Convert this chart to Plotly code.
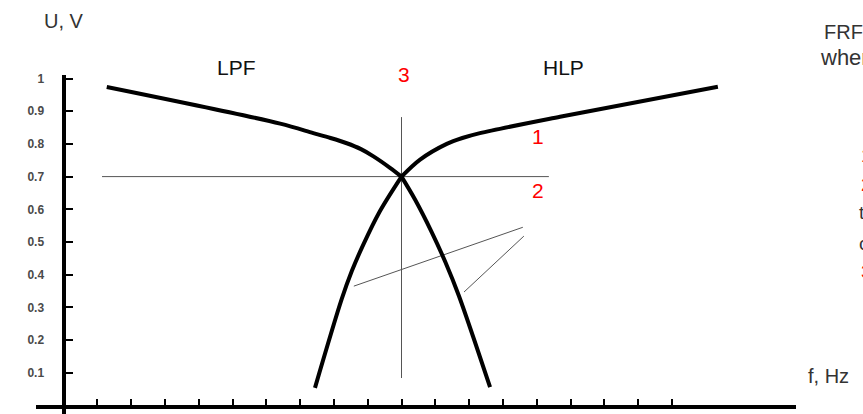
import plotly.graph_objects as go

# ---- data ----
# low-pass filter response (falls), crossing point at index 8
lpf_x = [1.28, 6.41, 7.39, 7.90, 8.38, 8.80, 9.17, 9.66, 10.0, 10.40, 10.90, 11.30, 11.70, 12.62]
lpf_y = [0.974, 0.862, 0.833, 0.818, 0.802, 0.784, 0.762, 0.727, 0.700, 0.630, 0.529, 0.438, 0.335, 0.056]
lpf_cross = 8

# high-pass filter response (rises), crossing point at index 5
hpf_x = [7.44, 8.23, 8.53, 8.87, 9.36, 10.0, 10.55, 11.34, 11.80, 12.32, 14.69, 19.36]
hpf_y = [0.054, 0.325, 0.411, 0.492, 0.594, 0.700, 0.752, 0.800, 0.818, 0.833, 0.883, 0.975]
hpf_cross = 5

level_x = [1.14, 14.36]
level_y = [0.7, 0.7]
cut_x = [10.0, 10.0]
cut_y = [0.084, 0.882]
pointer1_x = [8.59, 13.59]
pointer1_y = [0.365, 0.545]
pointer2_x = [11.85, 13.62]
pointer2_y = [0.347, 0.518]

x_ticks = list(range(1, 19))
y_ticks = [0.1, 0.2, 0.3, 0.4, 0.5, 0.6, 0.7, 0.8, 0.9, 1.0]
y_ticktext = ["0.1", "0.2", "0.3", "0.4", "0.5", "0.6", "0.7", "0.8", "0.9", "1"]

W, H = 863, 414
FONT = "Liberation Sans, Arial, sans-serif"

fig = go.Figure()

thin = dict(color="#555555", width=1)
for xs, ys in [(level_x, level_y), (cut_x, cut_y), (pointer1_x, pointer1_y), (pointer2_x, pointer2_y)]:
    fig.add_trace(go.Scatter(x=xs, y=ys, mode="lines", line=thin, hoverinfo="skip", showlegend=False))

thick = dict(color="black", width=4, shape="spline", smoothing=0.9)
for xs, ys, k in [(lpf_x, lpf_y, lpf_cross), (hpf_x, hpf_y, hpf_cross)]:
    fig.add_trace(go.Scatter(x=xs[:k + 1], y=ys[:k + 1], mode="lines", line=thick, showlegend=False))
    fig.add_trace(go.Scatter(x=xs[k:], y=ys[k:], mode="lines", line=thick, showlegend=False))


def px_x(p):
    return p / W


def px_y(p):
    return 1 - p / H


annots = [
    ("U, V", 42, 21, "#333333", 20, "left"),
    ("f, Hz", 806, 376, "#333333", 20, "left"),
    ("LPF", 236, 67, "#111111", 21, "center"),
    ("HLP", 563, 67, "#111111", 21, "center"),
    ("3", 404, 74, "#ff0000", 21, "center"),
    ("1", 538, 136, "#ff0000", 21, "center"),
    ("2", 538, 190, "#ff0000", 21, "center"),
    ("FRF of filters", 822, 32, "#333333", 20, "left"),
    ("where the", 818, 58, "#333333", 22, "left"),
    ("1 - LPF", 859, 155, "#ff0000", 19, "left"),
    ("2 - level", 859, 184, "#ff0000", 19, "left"),
    ("the", 857, 213, "#333333", 19, "left"),
    ("cut-off", 857, 243, "#333333", 19, "left"),
    ("3 - f", 859, 271, "#ff0000", 19, "left"),
]
for txt, x, y, col, size, anchor in annots:
    fig.add_annotation(text=txt, x=px_x(x), y=px_y(y), xref="paper", yref="paper",
                       xanchor=anchor, yanchor="middle", showarrow=False,
                       font=dict(family=FONT, size=size, color=col))

fig.update_layout(
    width=W, height=H, autosize=False,
    margin=dict(l=0, r=0, t=0, b=0, pad=0),
    paper_bgcolor="white", plot_bgcolor="white",
    template="none",
    xaxis=dict(
        domain=[36 / W, 796 / W],
        range=[-27.5 / 33.8, 732.5 / 33.8],
        anchor="free", position=(H - 407) / H,
        showline=True, linewidth=4, linecolor="black",
        ticks="inside", ticklen=6, tickwidth=2, tickcolor="black",
        tickvals=x_ticks, showticklabels=False,
        showgrid=False, zeroline=False, automargin=False,
    ),
    yaxis=dict(
        domain=[0, (H - 75) / H],
        range=[(405.5 - 414) / 327, 330.5 / 327],
        anchor="free", position=63.5 / W,
        showline=True, linewidth=4, linecolor="black",
        ticks="inside", ticklen=7, tickwidth=2, tickcolor="black",
        tickvals=y_ticks, ticktext=y_ticktext,
        tickfont=dict(family=FONT, size=12, color="#4a4a4a", weight="bold"),
        ticklabelstandoff=15,
        showgrid=False, zeroline=False, automargin=False,
    ),
)

fig.write_html(
    "out.html",
    config={"displayModeBar": False},
    post_script="document.body.style.margin='0';document.body.style.padding='0';document.body.style.overflow='hidden';",
)
